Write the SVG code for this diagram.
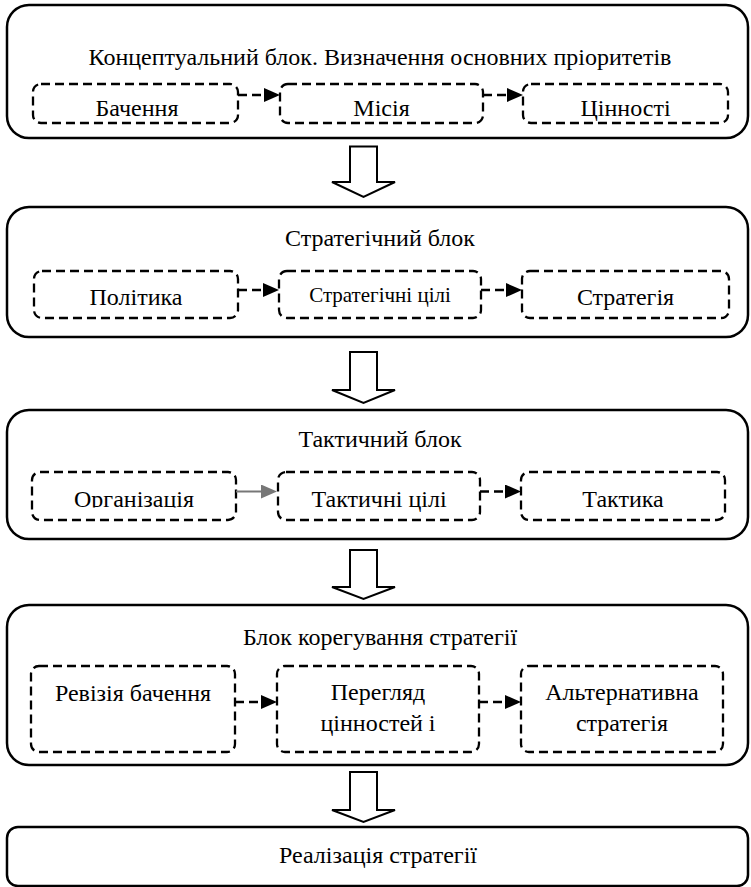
<svg xmlns="http://www.w3.org/2000/svg" width="751" height="887" viewBox="0 0 751 887">
<style>
.outer{fill:#fff;stroke:#000;stroke-width:2.5}
.inner{fill:none;stroke:#000;stroke-width:2.3;stroke-dasharray:9 5}
.big{fill:#fff;stroke:#000;stroke-width:2}
.con{fill:none;stroke:#000;stroke-width:2.3;stroke-dasharray:9 5}
.gcon{fill:none;stroke:#777;stroke-width:2}
.t{font-family:'Liberation Serif','DejaVu Serif',serif;font-size:24px;fill:#000;text-anchor:middle}
.sm{font-size:21px}
</style>
<defs>
<marker id="ah" markerUnits="userSpaceOnUse" markerWidth="16" markerHeight="14" refX="6" refY="7" orient="auto">
<path d="M0,0 L16,7 L0,14 z" fill="#000"/>
</marker>
<marker id="gah" markerUnits="userSpaceOnUse" markerWidth="16" markerHeight="14" refX="6" refY="7" orient="auto">
<path d="M0,0 L16,7 L0,14 z" fill="#777"/>
</marker>
<clipPath id="clipOrg"><rect x="0" y="470" width="300" height="37.5"/></clipPath>
</defs>

<g id="block1">
<rect class="outer" x="7" y="5" width="741" height="133" rx="22"/>
<text class="t" x="380" y="65">Концептуальний блок. Визначення основних пріоритетів</text>
</g>
<g id="bachennia"><rect class="inner" x="33" y="84" width="205" height="39" rx="8"/><text class="t" x="137" y="116">Бачення</text></g>
<g id="misiia"><rect class="inner" x="280" y="84" width="203" height="39" rx="8"/><text class="t" x="381.5" y="116">Місія</text></g>
<g id="tsinnosti"><rect class="inner" x="523" y="84" width="205" height="39" rx="8"/><text class="t" x="625.5" y="116">Цінності</text></g>

<g id="block2">
<rect class="outer" x="7" y="207" width="741" height="130" rx="22"/>
<text class="t" x="380" y="246">Стратегічний блок</text>
</g>
<g id="polityka"><rect class="inner" x="34" y="271" width="204" height="47" rx="8"/><text class="t" x="136" y="305">Політика</text></g>
<g id="stratcili"><rect class="inner" x="279" y="271" width="202" height="47" rx="8"/><text class="t sm" x="380" y="302">Стратегічні цілі</text></g>
<g id="stratehiia"><rect class="inner" x="522" y="271" width="207" height="47" rx="8"/><text class="t" x="625.5" y="305">Стратегія</text></g>

<g id="block3">
<rect class="outer" x="7" y="410" width="741" height="129" rx="22"/>
<text class="t" x="380" y="447">Тактичний блок</text>
</g>
<g id="orhanizatsiia"><rect class="inner" x="32" y="472" width="204" height="48" rx="8"/><text class="t" x="134" y="507" clip-path="url(#clipOrg)">Організація</text></g>
<g id="taktcili"><rect class="inner" x="278" y="472" width="202" height="48" rx="8"/><text class="t" x="379" y="507">Тактичні цілі</text></g>
<g id="taktyka"><rect class="inner" x="521" y="472" width="204" height="48" rx="8"/><text class="t" x="623" y="507">Тактика</text></g>

<g id="block4">
<rect class="outer" x="7" y="605" width="741" height="160" rx="22"/>
<text class="t" x="380" y="645">Блок корегування стратегії</text>
</g>
<g id="reviziia"><rect class="inner" x="31" y="666" width="204" height="86" rx="8"/><text class="t" x="133" y="701">Ревізія бачення</text></g>
<g id="perehliad"><rect class="inner" x="277" y="666" width="202" height="86" rx="8"/><text class="t" x="378" y="700">Перегляд</text><text class="t" x="378" y="731">цінностей і</text></g>
<g id="alternatyvna"><rect class="inner" x="521" y="666" width="202" height="86" rx="8"/><text class="t" x="622" y="700">Альтернативна</text><text class="t" x="622" y="731">стратегія</text></g>

<g id="block5">
<rect class="outer" x="7" y="827" width="741" height="59" rx="11"/>
<text class="t" x="378" y="863">Реалізація стратегії</text>
</g>

<g id="connectors">
<polygon class="big" points="350,146.5 377,146.5 377,182 395,182 363.5,197 332,182 350,182"/>
<polygon class="big" points="350,352 377,352 377,390 395,390 363.5,403 332,390 350,390"/>
<polygon class="big" points="350,550 377,550 377,587 395,587 363.5,599 332,587 350,587"/>
<polygon class="big" points="350,772 377,772 377,810 395,810 363.5,822 332,810 350,810"/>

<line class="con" x1="238" y1="95" x2="270" y2="95" marker-end="url(#ah)"/>
<line class="con" x1="483" y1="95" x2="513" y2="95" marker-end="url(#ah)"/>
<line class="con" x1="238" y1="290" x2="269" y2="290" marker-end="url(#ah)"/>
<line class="con" x1="481" y1="290" x2="512" y2="290" marker-end="url(#ah)"/>
<line class="gcon" x1="236" y1="491.5" x2="267" y2="491.5" marker-end="url(#gah)"/>
<line class="con" x1="480" y1="491.5" x2="511" y2="491.5" marker-end="url(#ah)"/>
<line class="con" x1="235" y1="702" x2="267" y2="702" marker-end="url(#ah)"/>
<line class="con" x1="479" y1="702" x2="511" y2="702" marker-end="url(#ah)"/>
</g>
</svg>
